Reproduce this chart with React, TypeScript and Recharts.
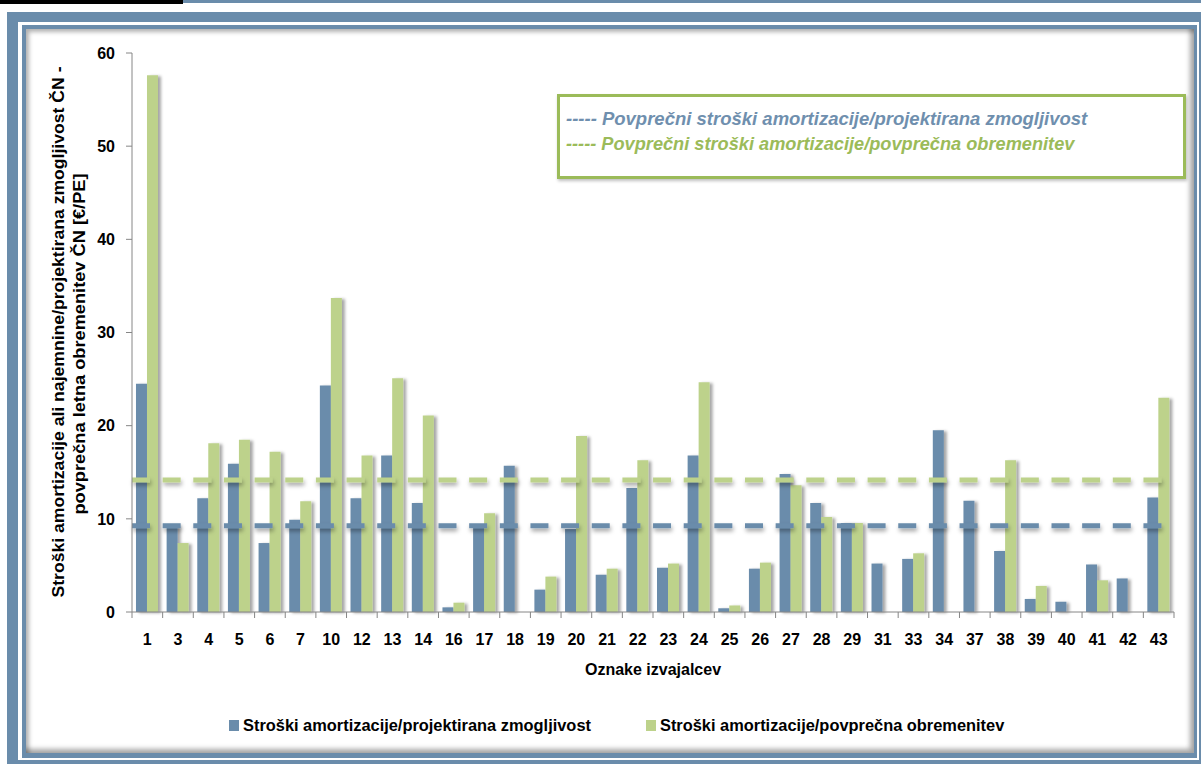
import React from 'react';
import { BarChart, Bar, XAxis, YAxis, ReferenceLine, Legend } from 'recharts';

// ---------- data ----------
const categories = ['1', '3', '4', '5', '6', '7', '10', '12', '13', '14', '16', '17', '18', '19', '20', '21', '22', '23', '24', '25', '26', '27', '28', '29', '31', '33', '34', '37', '38', '39', '40', '41', '42', '43'];
const capacityCost = [24.5, 9.4, 12.2, 15.9, 7.4, 9.9, 24.3, 12.2, 16.8, 11.7, 0.5, 9.1, 15.7, 2.4, 8.9, 4.0, 13.3, 4.75, 16.8, 0.4, 4.65, 14.8, 11.7, 9.55, 5.2, 5.7, 19.5, 11.95, 6.55, 1.4, 1.1, 5.1, 3.6, 12.3];
const loadCost = [57.6, 7.4, 18.1, 18.5, 17.2, 11.9, 33.7, 16.8, 25.1, 21.1, 1.0, 10.6, 0, 3.8, 18.9, 4.65, 16.3, 5.2, 24.65, 0.7, 5.3, 13.6, 10.2, 9.55, 0, 6.3, 0, 0, 16.3, 2.8, 0, 3.4, 0, 23.0];
const yTicks = [0, 10, 20, 30, 40, 50, 60];
const avgCapacity = 9.26;
const avgLoad = 14.17;
const seriesKeys = ['capacity', 'load'];
const seriesNames = ['Stroški amortizacije/projektirana zmogljivost', 'Stroški amortizacije/povprečna obremenitev'];
const avgNames = ['----- Povprečni stroški amortizacije/projektirana zmogljivost', '----- Povprečni stroški amortizacije/povprečna obremenitev'];
const xTitle = 'Oznake izvajalcev';
const yTitleLines = ['Stroški amortizacije ali najemnine/projektirana zmogljivost ČN -', 'povprečna letna obremenitev ČN [€/PE]'];

const data = categories.map((c, i) => ({ cat: c, capacity: capacityCost[i], load: loadCost[i] }));

// ---------- style ----------
const BLUE = '#6a8cab';
const GREEN = '#bdd28b';
const BOX_GREEN = '#9bbb59';
const AXIS = '#868686';
const FONT = '"Liberation Sans", Arial, sans-serif';
const W = 1201;
const H = 764;
const PLOT_LEFT = 132;
const PLOT_RIGHT = 1174;

const XTick = (props: any) => {
  const { x, y, payload, index } = props;
  const half = payload && payload.offset ? payload.offset : (PLOT_RIGHT - PLOT_LEFT) / categories.length / 2;
  const last = index === categories.length - 1;
  return (
    <g>
      <line x1={x - half} x2={x - half} y1={y - 6} y2={y} stroke={AXIS} strokeWidth={1} />
      {last && <line x1={x + half} x2={x + half} y1={y - 6} y2={y} stroke={AXIS} strokeWidth={1} />}
      <text x={x} y={y + 27} textAnchor="middle" fill="#000" fontSize={16} fontWeight={700} fontFamily={FONT}>
        {payload.value}
      </text>
    </g>
  );
};

const YTitle = () => (
  <g>
    <text
      transform="translate(64,332) rotate(-90)"
      textAnchor="middle"
      fontFamily={FONT}
      fontSize={17}
      fontWeight={700}
      fill="#000"
      textLength={531}
      lengthAdjust="spacingAndGlyphs"
    >
      {yTitleLines[0]}
    </text>
    <text
      transform="translate(85,344) rotate(-90)"
      textAnchor="middle"
      fontFamily={FONT}
      fontSize={17}
      fontWeight={700}
      fill="#000"
      textLength={341}
      lengthAdjust="spacingAndGlyphs"
    >
      {yTitleLines[1]}
    </text>
  </g>
);

const XTitle = () => (
  <text x={653} y={675} textAnchor="middle" fontFamily={FONT} fontSize={16} fontWeight={700} fill="#000">
    {xTitle}
  </text>
);

const renderLegend = (props: any) => {
  const payload = [...(props.payload || [])].sort(
    (a: any, b: any) => seriesKeys.indexOf(a.dataKey) - seriesKeys.indexOf(b.dataKey)
  );
  return (
    <div style={{ display: 'flex', alignItems: 'center', paddingLeft: 229, height: 26 }}>
      {payload.map((p: any, i: number) => (
        <div key={i} style={{ display: 'flex', alignItems: 'center', marginRight: 55 }}>
          <span style={{ display: 'inline-block', width: 10, height: 11, background: p.color, marginRight: 4 }} />
          <span style={{ fontFamily: FONT, fontSize: 16.4, fontWeight: 700, color: '#000', whiteSpace: 'nowrap' }}>{p.value}</span>
        </div>
      ))}
    </div>
  );
};

export default function App() {
  return (
    <div style={{ position: 'absolute', left: 0, top: 0, width: W, height: H, overflow: 'hidden', background: '#fff' }}>
      <svg width={0} height={0} style={{ position: 'absolute' }}>
        <defs>
          <filter id="barShadow" filterUnits="userSpaceOnUse" x={0} y={0} width={W} height={H}>
            <feDropShadow dx={3} dy={1} stdDeviation={1.6} floodColor="#000" floodOpacity={0.35} />
          </filter>
          <filter id="lineShadow" filterUnits="userSpaceOnUse" x={0} y={0} width={W} height={H}>
            <feDropShadow dx={1} dy={3} stdDeviation={2} floodColor="#000" floodOpacity={0.35} />
          </filter>
        </defs>
      </svg>
      {/* top strips */}
      <div style={{ position: 'absolute', left: 0, top: 0, width: 183, height: 4, background: '#000' }} />
      <div style={{ position: 'absolute', left: 183, top: 0, width: W - 183, height: 3, background: BLUE }} />
      {/* frame */}
      <div style={{ position: 'absolute', left: 7, top: 12, width: W, height: H, background: BLUE }} />
      <div style={{ position: 'absolute', left: 18, top: 22, width: 1181, height: 738, background: '#fff' }} />
      <div style={{ position: 'absolute', left: 22, top: 25, width: 1175, height: 733, background: BLUE }} />
      <div
        style={{
          position: 'absolute',
          left: 26,
          top: 29,
          width: 1168,
          height: 724,
          background: '#fff',
          boxShadow: 'inset 3px 3px 4px rgba(0,0,0,0.3), inset -4px -4px 5px rgba(0,0,0,0.35)',
        }}
      />
      {/* average legend box */}
      <div
        style={{
          position: 'absolute',
          left: 557,
          top: 94,
          width: 623,
          height: 79,
          border: `3px solid ${BOX_GREEN}`,
          background: '#fff',
          boxShadow: '1px 2px 3px rgba(0,0,0,0.25)',
        }}
      >
        <div style={{ position: 'absolute', left: 6, top: 11, fontFamily: FONT, fontStyle: 'italic', fontWeight: 700, fontSize: 18.5, color: '#6f8fae', whiteSpace: 'nowrap' }}>
          {avgNames[0]}
        </div>
        <div style={{ position: 'absolute', left: 6, top: 37, fontFamily: FONT, fontStyle: 'italic', fontWeight: 700, fontSize: 18.2, color: BOX_GREEN, whiteSpace: 'nowrap' }}>
          {avgNames[1]}
        </div>
      </div>
      <div style={{ position: 'absolute', left: 0, top: 0 }}>
        <BarChart
          width={W}
          height={H}
          data={data}
          margin={{ top: 53, right: 27, left: 92, bottom: 92 }}
          barCategoryGap="13%"
          barGap={0}
        >
          <XAxis
            dataKey="cat"
            interval={0}
            height={60}
            tickLine={false}
            tickSize={6}
            tickMargin={0}
            axisLine={{ stroke: AXIS }}
            tick={<XTick />}
            label={{ content: () => <XTitle /> }}
          />
          <YAxis
            width={40}
            domain={[0, 60]}
            ticks={yTicks}
            interval={0}
            tickSize={6}
            tickMargin={11}
            axisLine={{ stroke: AXIS }}
            tickLine={{ stroke: AXIS }}
            tick={{ fill: '#000', fontSize: 16, fontWeight: 700, fontFamily: FONT }}
            label={{ content: () => <YTitle /> }}
          />
          <Bar dataKey="capacity" name={seriesNames[0]} fill={BLUE} filter="url(#barShadow)" isAnimationActive={false} />
          <Bar dataKey="load" name={seriesNames[1]} fill={GREEN} filter="url(#barShadow)" isAnimationActive={false} />
          <ReferenceLine y={avgCapacity} stroke={BLUE} strokeWidth={5} strokeDasharray="18 12.65" filter="url(#lineShadow)" />
          <ReferenceLine y={avgLoad} stroke={GREEN} strokeWidth={5} strokeDasharray="18 12.65" filter="url(#lineShadow)" />
          <Legend
            verticalAlign="middle"
            align="center"
            layout="horizontal"
            wrapperStyle={{ position: 'absolute', top: 712, left: 0, width: W, height: 26 }}
            content={renderLegend}
          />
        </BarChart>
      </div>
    </div>
  );
}
